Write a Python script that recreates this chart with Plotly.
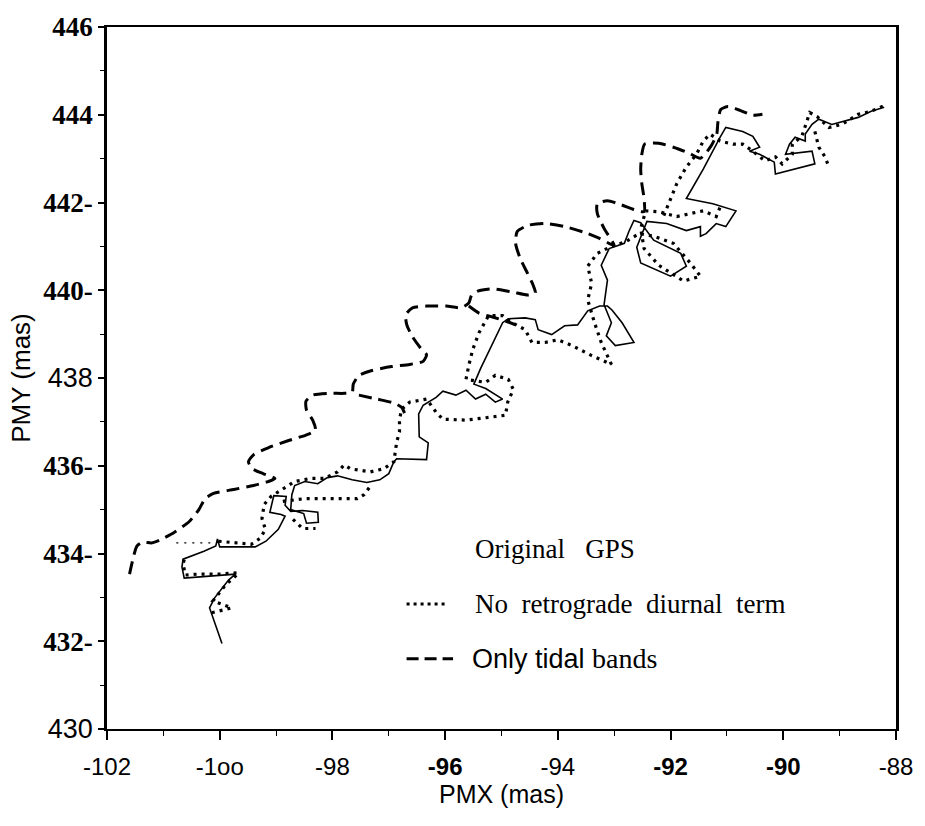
import plotly.graph_objects as go

# ---------------- data (mas) ----------------
# "Only tidal bands" (dashed) – main track and two short branches
tidal_x_main = [-101.60,-101.54,-101.47,-101.37,-101.21,-101.07,-100.81,-100.54,-100.37,-100.26,
                -100.11,-99.75,-99.40,-99.14,-99.02,-99.23,-99.42,-99.49,-99.40,-99.14,
                -98.79,-98.47,-98.30,-98.35,-98.46,-98.47,-98.35,-98.09,-97.79,-97.65,
                -97.63,-97.53,-97.30,-96.95,-96.63,-96.39,-96.33,-96.44,-96.58,-96.68,
                -96.70,-96.58,-96.33,-95.98,-95.72,-95.58,-95.53,-95.42,-95.16,-94.81,
                -94.53,-94.40,-94.44,-94.54,-94.67,-94.75,-94.72,-94.53,-94.23,-93.88,
                -93.53,-93.26,-93.00,-93.18,-93.30,-93.30,-93.12,-92.88,-92.65,-92.47,
                -92.47,-92.51,-92.53,-92.51,-92.46,-92.21,-91.95,-91.68,-91.47,-91.28,
                -91.18,-91.16,-91.11,-90.98,-90.77,-90.54,-90.37]
tidal_y_main = [433.53,433.87,434.17,434.26,434.24,434.30,434.48,434.73,435.00,435.25,
                435.37,435.46,435.55,435.64,435.71,435.82,435.93,436.09,436.25,436.41,
                436.57,436.70,436.81,437.04,437.27,437.47,437.61,437.65,437.65,437.67,
                437.86,438.06,438.17,438.26,438.31,438.38,438.53,438.69,438.94,439.21,
                439.44,439.60,439.64,439.64,439.60,439.71,439.89,439.98,440.03,439.96,
                439.89,439.94,440.12,440.39,440.73,441.07,441.34,441.48,441.52,441.45,
                441.32,441.18,441.02,441.41,441.75,441.97,442.04,441.95,441.84,441.79,
                442.09,442.43,442.76,443.10,443.33,443.35,443.26,443.13,443.01,443.29,
                443.56,443.83,444.12,444.19,444.10,443.99,444.01]
tidal_x_b1 = [-97.53,-97.21,-96.91,-96.77,-96.72]
tidal_y_b1 = [437.61,437.52,437.43,437.33,437.20]
tidal_x_b2 = [-95.58,-95.40,-95.16,-94.93,-94.75]
tidal_y_b2 = [439.64,439.48,439.39,439.30,439.21]

# "Original GPS" (solid)
gps_x = [-99.96,-100.11,-100.18,-100.09,-99.96,-99.84,-99.72,-99.93,-100.28,-100.63,
         -100.67,-100.65,-100.28,-100.07,-100.04,-100.00,-99.75,-99.37,-99.18,-98.96,
         -98.84,-98.91,-99.11,-99.04,-98.82,-98.84,-98.74,-98.53,-98.26,-98.25,
         -98.46,-98.51,-98.74,-98.72,-98.67,-98.49,-98.26,-98.09,-97.91,-97.65,
         -97.39,-97.16,-97.00,-96.91,-96.86,-96.33,-96.30,-96.46,-96.47,-96.39,
         -96.16,-96.04,-95.81,-95.63,-95.46,-95.28,-95.11,-94.98,-95.28,-95.49,
         -95.37,-95.19,-94.98,-94.88,-94.58,-94.40,-94.35,-94.11,-93.88,-93.65,
         -93.47,-93.26,-93.12,-93.04,-92.86,-92.65,-92.98,-93.14,-93.05,-93.18,
         -93.12,-93.23,-93.09,-92.82,-92.74,-92.65,-92.53,-92.30,-91.82,-91.72,
         -92.00,-92.53,-92.60,-92.42,-92.07,-91.72,-91.47,-91.47,-91.37,-91.19,
         -91.02,-90.84,-91.25,-91.72,-91.42,-91.12,-91.02,-90.72,-90.54,-90.42,
         -90.60,-90.42,-90.16,-90.14,-89.44,-89.49,-89.96,-89.89,-89.79,-89.61,
         -89.61,-89.49,-89.37,-89.14,-88.91,-88.67,-88.44,-88.21]
gps_y = [431.95,432.47,432.76,432.99,433.19,433.40,433.53,433.51,433.49,433.44,
         433.69,433.87,434.05,434.17,434.33,434.15,434.15,434.15,434.28,434.55,
         434.85,434.89,434.94,435.32,435.30,435.10,434.96,434.98,434.94,434.71,
         434.69,434.91,435.00,435.34,435.55,435.64,435.59,435.73,435.77,435.68,
         435.62,435.68,435.82,436.09,436.16,436.14,436.52,436.66,437.18,437.38,
         437.56,437.70,437.61,437.72,437.52,437.63,437.45,437.52,437.76,437.86,
         438.22,438.69,439.26,439.35,439.37,439.33,439.10,438.99,439.19,439.21,
         439.53,439.64,439.64,439.55,439.26,438.81,438.74,438.96,439.26,439.67,
         440.23,440.57,440.95,441.07,441.34,441.59,441.54,441.14,440.84,440.55,
         440.32,440.62,440.98,441.57,441.52,441.36,441.45,441.23,441.29,441.52,
         441.45,441.81,441.97,442.09,442.76,443.49,443.71,443.62,443.51,443.26,
         443.17,443.10,442.92,442.65,442.88,443.17,443.10,443.33,443.49,443.40,
         443.56,443.78,443.90,443.78,443.85,443.94,444.08,444.17]

# "No retrograde diurnal term" (dotted) – visible pieces
noretro_x_1 = [-100.14,-99.79,-100.12,-100.00,-99.88,-99.75,-99.67,-100.02,-100.37,-100.61,-100.65,-100.61]
noretro_y_1 = [432.65,432.76,432.92,433.13,433.31,433.44,433.56,433.53,433.53,433.51,433.76,433.96]
noretro_x_2 = [-100.02,-99.75,-99.44,-99.28,-99.19,-99.25,-99.21,-99.09,-98.67,-98.39,
               -98.14,-97.91,-97.79,-97.68,-97.33,-97.09,-96.91,-96.86,-96.81,-96.81,
               -96.77,-96.63,-96.33,-96.16,-96.04,-95.63,-95.23,-94.93,-94.89,-94.79,
               -94.88,-95.11,-95.28,-95.63,-95.58,-95.51,-95.40,-95.28,-95.23,-94.98,
               -94.81,-94.58,-94.46,-94.23,-94.00,-93.75,-93.40,-93.05,-93.23,-93.35,
               -93.47,-93.40,-93.47,-93.30,-93.05,-92.79,-92.56,-92.30,-91.95,-91.65,
               -91.47,-91.77,-92.21,-92.47,-92.53,-92.44,-92.21,-91.89,-91.65,-91.42,
               -91.19,-91.12]
noretro_y_2 = [434.28,434.24,434.21,434.35,434.55,434.80,435.12,435.30,435.64,435.71,
               435.71,435.86,436.02,435.93,435.86,435.93,436.09,436.54,436.77,437.06,
               437.29,437.45,437.52,437.22,437.06,437.04,437.11,437.15,437.45,437.74,
               437.97,438.06,437.90,437.97,438.29,438.65,439.03,439.33,439.42,439.42,
               439.26,439.10,438.81,438.81,438.87,438.74,438.51,438.31,438.81,439.26,
               439.78,440.16,440.55,440.84,441.00,441.11,441.29,441.23,441.07,440.62,
               440.32,440.21,440.57,440.95,441.41,441.81,441.79,441.68,441.75,441.81,
               441.68,441.90]
noretro_x_3 = [-92.12,-92.00,-91.89,-91.72,-91.54,-91.42,-91.30,-91.12,-90.89,-90.72,
               -90.54,-90.42,-90.32,-90.14,-90.02,-89.84,-89.84,-89.67,-89.58,-89.53,
               -89.40,-89.19,-88.96,-88.67,-88.44,-88.21]
noretro_y_3 = [441.70,442.09,442.43,442.81,443.10,443.40,443.56,443.40,443.33,443.33,
               443.17,443.04,442.95,443.04,442.88,443.10,443.33,443.51,443.83,444.05,
               443.96,443.71,443.78,444.01,444.08,444.21]
noretro_x_4 = [-89.44,-89.37,-89.26,-89.19]
noretro_y_4 = [443.62,443.26,443.04,442.81]
noretro_x_5 = [-98.88,-98.49,-98.04,-97.56,-97.44,-97.33]
noretro_y_5 = [435.19,435.25,435.25,435.25,435.34,435.53]
noretro_x_6 = [-98.70,-98.53,-98.30]
noretro_y_6 = [434.78,434.57,434.57]
noretro_thin_x = [-100.77,-100.07]
noretro_thin_y = [434.24,434.24]

x_ticks = [-102, -100, -98, -96, -94, -92, -90, -88]
x_ticktext = ["-102", "-1oo", "-98", "<b>-96</b>", "-94", "<b>-92</b>", "<b>-90</b>", "-88"]
y_ticks = [430, 432, 434, 436, 438, 440, 442, 444, 446]
SANS = "Liberation Sans, Arial, sans-serif"
SERIF = "Liberation Serif, Times New Roman, serif"
def sans(t):
    return '<span style="font-family:Liberation Sans">' + t + '</span>'
y_ticktext = [sans("430"), "<b>432-</b>", "<b>434-</b>", "<b>436-</b>", sans("438"),
              "<b>440-</b>", "<b>442-</b>", "<b>444</b>", "<b>446</b>"]

legend_labels = ["Original\u00a0\u00a0 GPS",
                 "No\u00a0 retrograde\u00a0 diurnal\u00a0 term",
                 'Only tidal <span style="font-family:Liberation Serif;font-size:28px">bands</span>']


def join(*segs):
    xs, ys = [], []
    for sx, sy in segs:
        if xs:
            xs.append(None)
            ys.append(None)
        xs += list(sx)
        ys += list(sy)
    return xs, ys


fig = go.Figure()

tx, ty = join((tidal_x_main, tidal_y_main), (tidal_x_b1, tidal_y_b1), (tidal_x_b2, tidal_y_b2))
fig.add_trace(go.Scatter(x=tx, y=ty, mode="lines", name="Only tidal bands",
                         line=dict(color="black", width=3, dash="13px,7px", shape="spline", smoothing=0.6),
                         connectgaps=False))

fig.add_trace(go.Scatter(x=gps_x, y=gps_y, mode="lines", name="Original GPS",
                         line=dict(color="black", width=1.6)))

nx, ny = join((noretro_x_1, noretro_y_1), (noretro_x_2, noretro_y_2), (noretro_x_3, noretro_y_3),
              (noretro_x_4, noretro_y_4), (noretro_x_5, noretro_y_5), (noretro_x_6, noretro_y_6))
fig.add_trace(go.Scatter(x=nx, y=ny, mode="lines", name="No retrograde diurnal term",
                         line=dict(color="black", width=3.2, dash="3px,5px"), connectgaps=False))
fig.add_trace(go.Scatter(x=noretro_thin_x, y=noretro_thin_y, mode="lines", showlegend=False,
                         line=dict(color="black", width=1.2, dash="2px,6px")))

# legend drawn inside the plot as in the original figure
fig.add_annotation(x=0.4637, y=0.256, xref="paper", yref="paper", text=legend_labels[0],
                   showarrow=False, xanchor="left", yanchor="middle",
                   font=dict(family=SERIF, size=27, color="black"))
fig.add_annotation(x=0.4637, y=0.178, xref="paper", yref="paper", text=legend_labels[1],
                   showarrow=False, xanchor="left", yanchor="middle",
                   font=dict(family=SERIF, size=27, color="black"))
fig.add_annotation(x=0.4599, y=0.100, xref="paper", yref="paper", text=legend_labels[2],
                   showarrow=False, xanchor="left", yanchor="middle",
                   font=dict(family=SANS, size=27, color="black"))
fig.add_shape(type="line", xref="paper", yref="paper", x0=0.3797, x1=0.4323, y0=0.178, y1=0.178,
              line=dict(color="black", width=3, dash="3px,4px"))
fig.add_shape(type="line", xref="paper", yref="paper", x0=0.3797, x1=0.4386, y0=0.100, y1=0.100,
              line=dict(color="black", width=3, dash="12px,6px"))

fig.update_layout(
    width=925, height=826,
    margin=dict(l=107, r=20, t=22, b=97),
    paper_bgcolor="white", plot_bgcolor="white",
    showlegend=False,
    xaxis=dict(range=[-102, -88], tickvals=x_ticks, ticktext=x_ticktext,
               ticks="outside", ticklen=9, tickwidth=1.5, tickcolor="black",
               minor=dict(dtick=1, ticks="outside", ticklen=5, tickwidth=1.2, tickcolor="black"),
               showline=True, linewidth=2, linecolor="black", mirror=True,
               showgrid=False, zeroline=False, ticklabelstandoff=6,
               tickfont=dict(family=SANS, size=24, color="black"),
               title=dict(text="PMX (mas)", font=dict(family=SANS, size=25, color="black"), standoff=4)),
    yaxis=dict(range=[430, 446], tickvals=y_ticks, ticktext=y_ticktext,
               ticks="outside", ticklen=6, tickwidth=1.5, tickcolor="black",
               minor=dict(dtick=1, ticks="outside", ticklen=4, tickwidth=1.2, tickcolor="black"),
               showline=True, linewidth=2.5, linecolor="black", mirror=True,
               showgrid=False, zeroline=False,
               tickfont=dict(family=SERIF, size=27, color="black"),
               title=dict(text="PMY (mas)", font=dict(family=SANS, size=26, color="black"), standoff=6)),
)

fig.write_html("out.html")
